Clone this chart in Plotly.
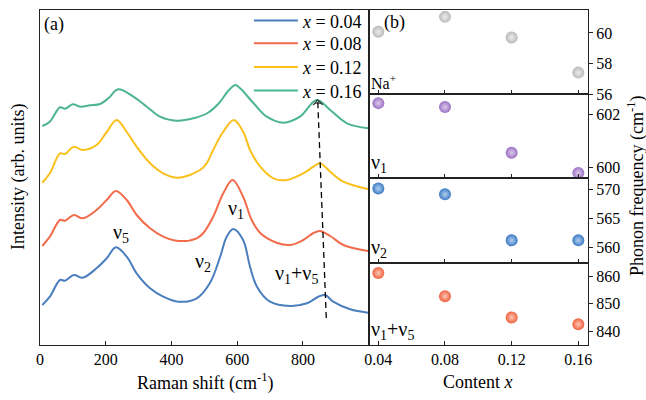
import plotly.graph_objects as go

# ---------------- data: Raman spectra (panel a) ----------------
labels = ["0.04", "0.08", "0.12", "0.16"]
colors = ["#4A7EBF", "#F26B4A", "#FBC01A", "#4DB58D"]

shift_b = [7, 30, 61, 76, 103, 130, 172, 203, 231, 264, 294, 335, 375, 421, 477, 517, 548, 568, 588, 618, 639, 660, 700, 761, 812, 847, 868, 892, 944, 998]
int_b = [40, 48.3, 65, 64.3, 70, 67.3, 76.7, 86.7, 97.7, 88.3, 71.7, 56.7, 48.3, 43.3, 46.7, 62, 88, 108.3, 116, 105, 78.3, 58.3, 43.3, 39, 41.7, 48.3, 50, 43.3, 35.7, 32.3]

shift_o = [7, 30, 61, 76, 103, 130, 172, 203, 231, 264, 294, 335, 375, 421, 477, 497, 527, 558, 586, 618, 644, 670, 720, 761, 801, 832, 852, 883, 923, 998]
int_o = [99, 108.3, 125, 124.3, 130, 126.7, 135, 145, 154, 145, 130, 116.7, 108.3, 104, 106.7, 112, 128.3, 152, 165, 148.3, 125, 112, 102.3, 100, 105, 112, 114, 109, 100, 94]

shift_y = [7, 30, 61, 76, 103, 130, 172, 203, 233, 264, 294, 335, 375, 421, 487, 507, 527, 555, 590, 620, 639, 670, 710, 751, 801, 832, 852, 883, 923, 1000]
int_y = [162.3, 171.7, 191.7, 191, 198.3, 195, 200, 213, 225, 213, 198.3, 181.7, 171.7, 167.3, 175, 181.7, 195, 212, 225, 212, 195, 178.3, 166.7, 165, 171.7, 178.3, 181.7, 173.3, 163.3, 155.7]

shift_g = [7, 30, 61, 76, 100, 122, 152, 183, 208, 238, 284, 325, 365, 416, 467, 510, 545, 570, 594, 609, 650, 690, 741, 791, 842, 883, 934, 1000]
int_g = [219, 223.3, 237.7, 236.3, 240.7, 238.3, 239.7, 241, 246.7, 255.7, 248.3, 238.3, 228.3, 224.3, 226.7, 232, 242, 253, 260, 256.7, 241.7, 228.3, 222.3, 228.3, 245, 235, 221.7, 216.7]

spectra_x = [shift_b, shift_o, shift_y, shift_g]
spectra_y = [int_b, int_o, int_y, int_g]

# guide line through nu1+nu5 peaks
guide_x = [871, 845]
guide_y = [27, 245]

# ---------------- data: phonon frequencies (panel b) ----------------
content = [0.04, 0.08, 0.12, 0.16]
freq_na = [60.07, 61.05, 59.7, 57.4]
freq_v1 = [602.45, 602.3, 600.55, 599.77]
freq_v2 = [570.1, 569.1, 561.2, 561.2]
freq_v15 = [861.1, 852.7, 845.0, 842.5]

panel_freqs = [freq_na, freq_v1, freq_v2, freq_v15]
panel_names = ["Na<sup>+</sup>", "ν<sub>1</sub>", "ν<sub>2</sub>", "ν<sub>1</sub>+ν<sub>5</sub>"]
panel_colors = ["#B9B9B9", "#9B72C2", "#3C7BC4", "#F1623F"]
panel_centers = ["#EDEDED", "#DCCBEC", "#B3D0F0", "#FCC6B6"]
panel_ranges = [[56, 61.5], [599.58, 602.8], [557.4, 571.9], [835, 864.9]]
panel_ticks = [[56, 58, 60], [600, 602], [560, 565, 570], [840, 850, 860]]
panel_domains = [[0.765, 0.975], [0.555, 0.765], [0.34375, 0.555], [0.1375, 0.34375]]

FONT = "Liberation Serif"
AX = "#222222"

fig = go.Figure()

legend_ids = ["legend", "legend2", "legend3", "legend4"]
for i in range(4):
    fig.add_trace(go.Scatter(
        x=spectra_x[i], y=spectra_y[i], mode="lines", line_shape="spline",
        line=dict(color=colors[i], width=2),
        name="<i>x</i> = " + labels[i], legend=legend_ids[i],
        xaxis="x", yaxis="y"))

fig.add_trace(go.Scatter(
    x=guide_x, y=guide_y, mode="lines+markers", showlegend=False,
    line=dict(color="black", width=1.3, dash="6px,4px"),
    marker=dict(symbol=["circle", "arrow-wide-open"], size=[0, 7], angleref="previous",
                color="black", line=dict(color="black", width=1.2)),
    xaxis="x", yaxis="y"))

for k in range(4):
    n = k + 2
    fig.add_trace(go.Scatter(
        x=content, y=panel_freqs[k], mode="markers", showlegend=False,
        marker=dict(size=12, color=panel_colors[k],
                    gradient=dict(type="radial", color=panel_centers[k]),
                    line=dict(width=0)),
        xaxis="x%d" % n, yaxis="y%d" % n))

layout = dict(
    template="none",
    width=646, height=400, margin=dict(l=0, r=0, t=0, b=0, autoexpand=False),
    paper_bgcolor="white", plot_bgcolor="white",
    font=dict(family=FONT, size=16, color="black"),
    showlegend=True,
    xaxis=dict(domain=[0.0619, 0.5712], range=[0, 1001], anchor="y", automargin=False,
               tickvals=[0, 200, 400, 600, 800], ticks="inside", ticklen=4,
               tickcolor=AX, showline=True, linecolor=AX, linewidth=1, mirror=True,
               showgrid=False, zeroline=False, tickfont=dict(size=16)),
    yaxis=dict(domain=[0.1375, 0.975], range=[0, 335], anchor="x", automargin=False,
               showticklabels=False, ticks="", showline=True, linecolor=AX,
               linewidth=1, mirror=True, showgrid=False, zeroline=False),
)

legend_y = [0.948, 0.891, 0.832, 0.773]
for i in range(4):
    layout[legend_ids[i]] = dict(
        x=0.5695, xanchor="right", y=legend_y[i], yanchor="middle",
        bgcolor="rgba(0,0,0,0)", font=dict(size=18, family=FONT),
        itemwidth=44, borderwidth=0)

for k in range(4):
    n = k + 2
    layout["xaxis%d" % n] = dict(
        domain=[0.5712, 0.9102], range=[0.0344, 0.1658], anchor="y%d" % n,
        automargin=False,
        tickvals=content, ticktext=["0.04", "0.08", "0.12", "0.16"],
        showticklabels=(k == 3), ticks="inside", ticklen=4, tickcolor=AX,
        showline=True, linecolor=AX, linewidth=1, mirror=True,
        showgrid=False, zeroline=False, tickfont=dict(size=16))
    layout["yaxis%d" % n] = dict(
        domain=panel_domains[k], range=panel_ranges[k], anchor="x%d" % n,
        automargin=False,
        side="right", tickvals=panel_ticks[k], ticks="outside", ticklen=4,
        tickcolor=AX, showline=True, linecolor=AX, linewidth=1, mirror=True,
        showgrid=False, zeroline=False, tickfont=dict(size=16))

fig.update_layout(**layout)

ann = []
# axis titles
ann.append(dict(text="Raman shift (cm<sup>-1</sup>)", xref="paper", yref="paper",
                x=0.3173, y=0.045, xanchor="center", yanchor="middle",
                showarrow=False, font=dict(size=18)))
ann.append(dict(text="Content <i>x</i>", xref="paper", yref="paper",
                x=0.740, y=0.045, xanchor="center", yanchor="middle",
                showarrow=False, font=dict(size=18)))
ann.append(dict(text="Intensity (arb. units)", xref="paper", yref="paper",
                x=0.028, y=0.5575, xanchor="center", yanchor="middle",
                textangle=-90, showarrow=False, font=dict(size=18)))
ann.append(dict(text="Phonon frequency (cm<sup>-1</sup>)", xref="paper", yref="paper",
                x=0.9845, y=0.535, xanchor="center", yanchor="middle",
                textangle=-90, showarrow=False, font=dict(size=18)))
# panel letters
ann.append(dict(text="(a)", xref="x domain", yref="y domain", x=0.006, y=0.995,
                xanchor="left", yanchor="top", showarrow=False, font=dict(size=18)))
ann.append(dict(text="(b)", xref="x2 domain", yref="y2 domain", x=0.06, y=1.0,
                xanchor="left", yanchor="top", showarrow=False, font=dict(size=18)))
# mode labels panel a
for txt, xx, yy in [("ν<sub>5</sub>", 247, 112), ("ν<sub>2</sub>", 496, 83),
                    ("ν<sub>1</sub>", 596, 136), ("ν<sub>1</sub>+ν<sub>5</sub>", 779, 71)]:
    ann.append(dict(text=txt, x=xx, y=yy, xref="x", yref="y", showarrow=False,
                    xanchor="center", yanchor="middle", font=dict(size=20)))
# panel b labels
for k in range(4):
    n = k + 2
    ann.append(dict(text=panel_names[k], xref="x%d domain" % n, yref="y%d domain" % n,
                    x=0.0, y=0.0, xanchor="left", yanchor="bottom", showarrow=False,
                    font=dict(size=(16 if k == 0 else 20))))

fig.update_layout(annotations=ann)
fig.write_html("out.html")
